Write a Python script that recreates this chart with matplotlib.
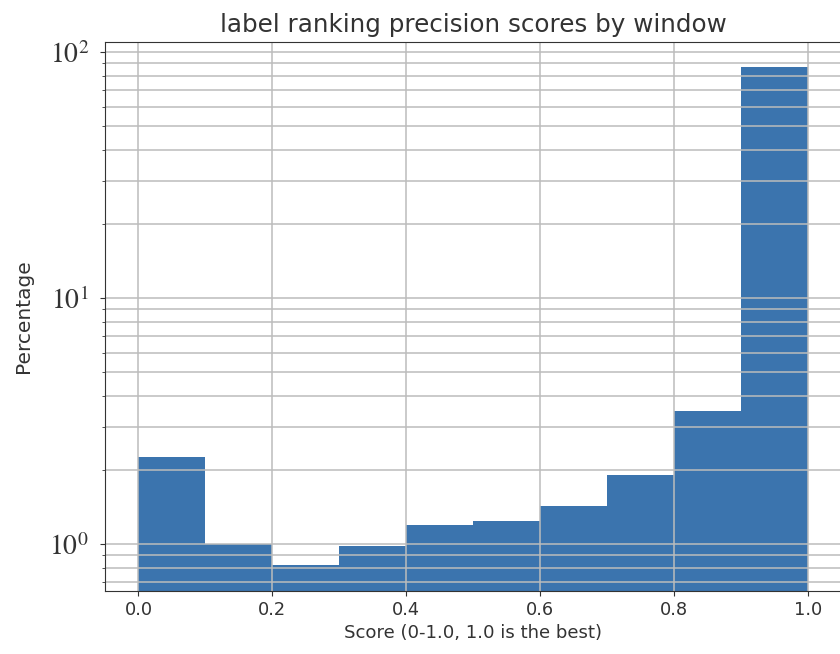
import numpy as np
import matplotlib
matplotlib.use("Agg")
import matplotlib.pyplot as plt
from matplotlib.ticker import FuncFormatter

# histogram of per-window scores, already expressed as percentages
bin_edges = [0.0, 0.1, 0.2, 0.3, 0.4, 0.5, 0.6, 0.7, 0.8, 0.9, 1.0]
percentages = [2.26, 1.0, 0.82, 0.98, 1.19, 1.24, 1.43, 1.91, 3.47, 87.0]
xticks = [0.0, 0.2, 0.4, 0.6, 0.8, 1.0]

plt.rcParams['mathtext.fontset'] = 'stix'

fig = plt.figure(figsize=(8.4, 6.54), dpi=100)
ax = fig.add_axes([0.125, 0.0963, 0.877, 0.8397])

centers = [(a + b) / 2 for a, b in zip(bin_edges[:-1], bin_edges[1:])]
ax.hist(centers, bins=bin_edges, weights=percentages, color='#3b74ae', log=True)

ax.set_yscale('log')
ax.set_ylim(0.644, 110)
ax.set_xlim(-0.05, 1.05)
ax.set_xticks(xticks)
ax.yaxis.set_major_formatter(FuncFormatter(lambda v, pos: r'$10^{%d}$' % round(np.log10(v))))
ax.grid(True, which='both', color='#bcbcbc', linewidth=1.1)

ax.tick_params(axis='x', labelsize=12.8, colors='#333333', labelcolor='#333333')
ax.tick_params(axis='y', which='major', labelsize=20, pad=8, colors='#333333')
ax.tick_params(axis='y', which='minor', colors='#333333')
for s in ax.spines.values():
    s.set_color('#333333')

ax.set_title('label ranking precision scores by window', fontsize=17.7, color='#333333', pad=7)
ax.set_xlabel('Score (0-1.0, 1.0 is the best)', fontsize=13.1, color='#333333', labelpad=4)
ax.set_ylabel('Percentage', fontsize=14.5, color='#333333', labelpad=12)

fig.savefig('out.png', dpi=100)
